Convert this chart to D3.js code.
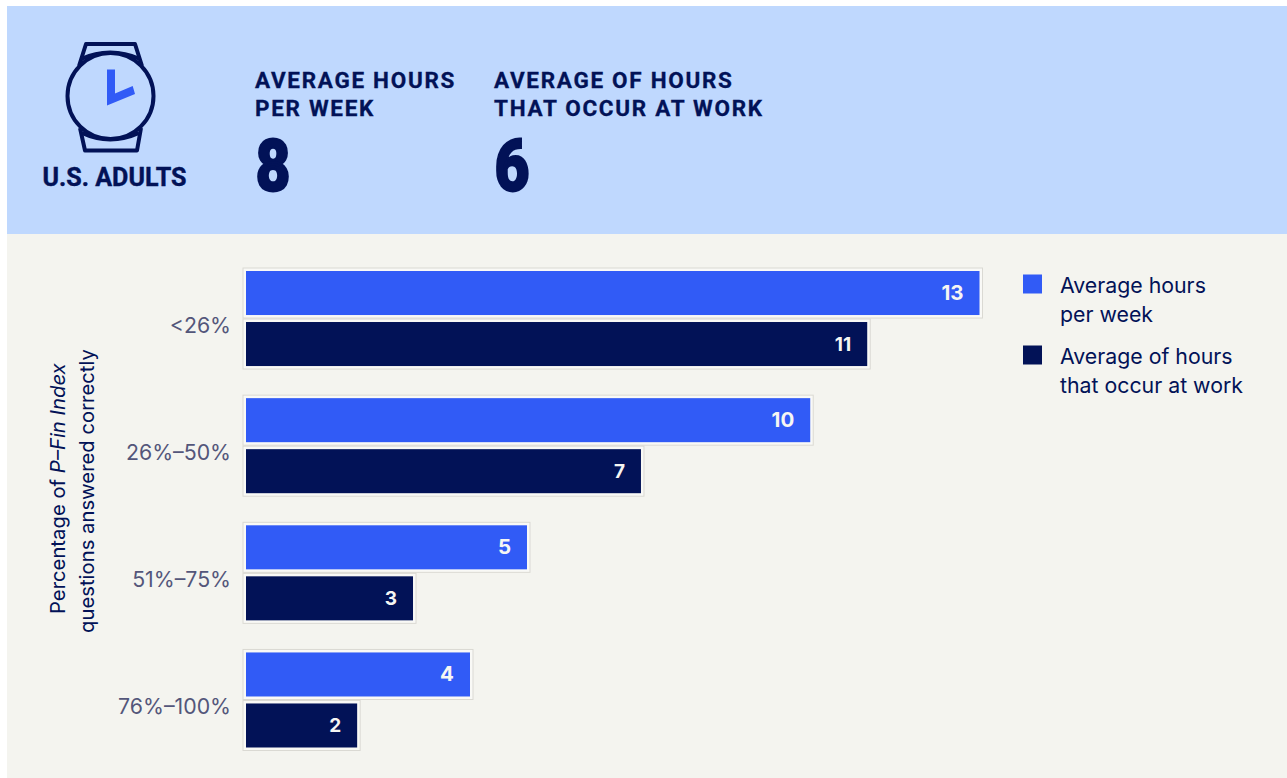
<!DOCTYPE html>
<html><head><meta charset="utf-8">
<script src="https://cdn.jsdelivr.net/npm/d3@7"></script>
<style>html,body{margin:0;padding:0;background:#fff}svg{display:block}</style>
</head><body><div id="c"></div>
<script>
const categories = ["<26%","26%\u201350%","51%\u201375%","76%\u2013100%"];
const seriesNames = ["Average hours per week","Average of hours that occur at work"];
const hoursPerWeek = [13,10,4.98,3.97];
const hoursAtWork = [11.01,7,2.96,1.97];
const legendLines = [["Average hours","per week"],["Average of hours","that occur at work"]];
const headerLines = [["AVERAGE HOURS","PER WEEK"],["AVERAGE OF HOURS","THAT OCCUR AT WORK"]];
const headerValues = ["8","6"];
const axisLines = [["Percentage of ","P\u2013Fin Index"],["questions answered correctly",""]];
const colors = ["#315BF6","#021257"];
const ink="#021257";

const svg=d3.select("#c").append("svg").attr("width",1287).attr("height",778);
svg.append("rect").attr("x",7).attr("y",6).attr("width",1280).attr("height",228).attr("fill","#BFD8FE");
svg.append("rect").attr("x",7).attr("y",234).attr("width",1280).attr("height",544).attr("fill","#F4F4EF");

// watch icon
const icon=svg.append("g").attr("fill","none").attr("stroke",ink).attr("stroke-width",4).attr("stroke-linejoin","round");
icon.append("circle").attr("cx",110.500).attr("cy",96).attr("r",43);
icon.append("path").attr("d","M79 66 L86 44 H135 L142 66");
icon.append("path").attr("d","M81 59 Q110 46 140 59");
icon.append("path").attr("d","M80 128 L85 150.500 H137 L141 128");
icon.append("path").attr("d","M82 133 Q110 146 139 133");
svg.append("path").attr("d","M107 69.500 H115 V93.500 L132.700 86 L135 94 L107 105.500 Z").attr("fill",colors[0]);

svg.append("text").text("U.S. ADULTS").attr("x",114.500).attr("y",186).attr("text-anchor","middle")
 .attr("font-family","Roboto").attr("font-weight",700).attr("font-size",25.500).attr("fill",ink)
 .attr("stroke",ink).attr("stroke-width",0.400).attr("textLength",144).attr("lengthAdjust","spacingAndGlyphs");

[255,494].forEach((x,i)=>{
  headerLines[i].forEach((t,j)=>svg.append("text").text(t).attr("x",x).attr("y",88+j*28)
   .attr("font-family","Roboto").attr("font-weight",700).attr("font-size",22.500).attr("letter-spacing",1.7).attr("fill",ink)
   .attr("stroke",ink).attr("stroke-width",0.300));
  svg.append("text").text(headerValues[i]).attr("transform",`translate(${x+0.500},190.500) scale(0.84,1)`)
   .attr("font-family","Roboto").attr("font-weight",900).attr("font-size",72).attr("fill",ink)
   .attr("stroke",ink).attr("stroke-width",2);
});

// chart
const x=d3.scaleLinear().domain([0,13]).range([246,979.500]);
const y=d3.scaleBand().domain(categories).range([271,747.500]).paddingInner(0.2525).paddingOuter(0);
const y1=d3.scaleBand().domain([0,1]).range([0,y.bandwidth()]).paddingInner(0.137);
const fmt=d3.format(".0f");

categories.forEach((c,i)=>{
  const g=svg.append("g").attr("transform",`translate(0,${y(c)})`);
  [hoursPerWeek[i],hoursAtWork[i]].forEach((v,s)=>{
    g.append("rect").attr("x",x(0)-3).attr("y",y1(s)-3).attr("width",x(v)-x(0)+6).attr("height",y1.bandwidth()+6)
      .attr("fill","#F9F9F6").attr("stroke","#DAD9D3").attr("stroke-width",1);
    g.append("rect").attr("x",x(0)).attr("y",y1(s)).attr("width",x(v)-x(0)).attr("height",y1.bandwidth()).attr("fill",colors[s]);
    g.append("text").text(fmt(v)).attr("x",x(v)-16).attr("y",y1(s)+y1.bandwidth()/2+6.500).attr("text-anchor","end")
      .attr("font-family","Inter").attr("font-weight",700).attr("font-size",s?19:20.500).attr("fill","#F6F6F3");
  });
  g.append("text").text(c).attr("x",231).attr("y",y.bandwidth()/2+14).attr("text-anchor","end")
    .attr("font-family","Inter").attr("font-weight",400).attr("font-size",21.300).attr("fill","#53567A");
});

// y title
const t=svg.append("g").attr("font-family","Inter").attr("font-weight",400).attr("font-size",20.300).attr("fill",ink);
const a=t.append("text").attr("transform","translate(65,614) rotate(-90)");
a.append("tspan").text(axisLines[0][0]);
a.append("tspan").attr("font-style","italic").text(axisLines[0][1]);
t.append("text").attr("transform","translate(94,633) rotate(-90)").text(axisLines[1][0]);

// legend
seriesNames.forEach((n,i)=>{
  const ly=[274,345][i];
  svg.append("rect").attr("x",1023).attr("y",ly+0.500).attr("width",19).attr("height",19).attr("fill",colors[i]);
  legendLines[i].forEach((l,j)=>svg.append("text").text(l).attr("x",1060).attr("y",ly+19+j*29)
    .attr("font-family","Inter").attr("font-weight",400).attr("font-size",21.300).attr("fill",ink));
});
</script></body></html>
